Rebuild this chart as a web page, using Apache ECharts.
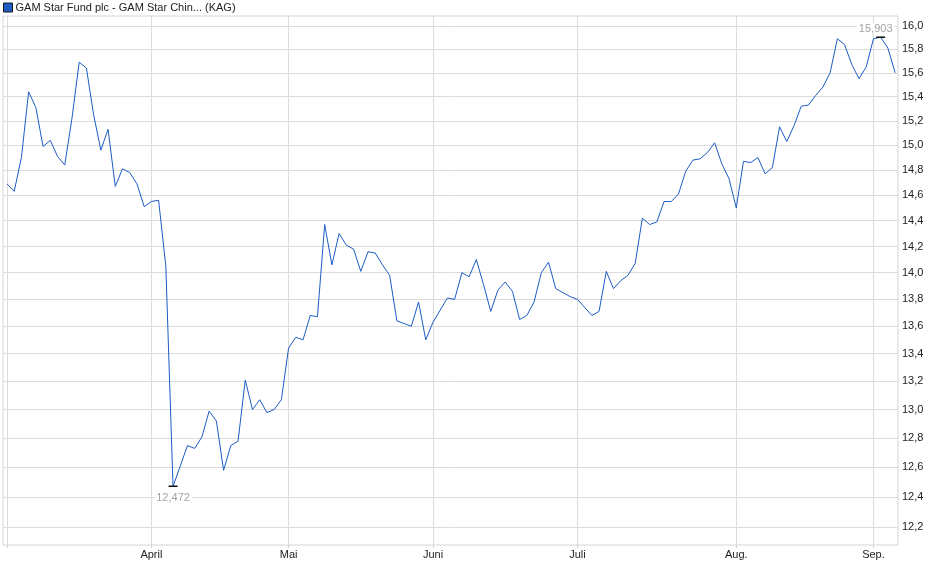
<!DOCTYPE html>
<html>
<head>
<meta charset="utf-8">
<script src="https://cdn.jsdelivr.net/npm/echarts@6/dist/echarts.min.js"></script>
<style>
  html, body { margin: 0; padding: 0; background: #fff; }
  #chart { width: 940px; height: 579px; }
</style>
</head>
<body>
<div id="chart"></div>
<script>
// Kurse je Handelstag (Anfang März bis Anfang Sep.)
const values = [
  14.69, 14.63, 14.90, 15.44, 15.31, 14.99, 15.04, 14.91, 14.84, 15.22,
  15.69, 15.64, 15.25, 14.96, 15.13, 14.67, 14.81, 14.78, 14.69, 14.51,
  14.55, 14.56, 14.05, 12.472, 12.61, 12.75, 12.73, 12.81, 12.99, 12.92,
  12.58, 12.75, 12.78, 13.21, 13.00, 13.07, 12.98, 13.00, 13.07, 13.44,
  13.52, 13.50, 13.68, 13.67, 14.37, 14.06, 14.30, 14.21, 14.18, 14.01,
  14.16, 14.15, 14.06, 13.98, 13.64, 13.62, 13.60, 13.78, 13.50, 13.63,
  13.72, 13.81, 13.80, 14.00, 13.97, 14.10, 13.91, 13.71, 13.87, 13.93,
  13.86, 13.65, 13.68, 13.78, 14.00, 14.08, 13.88, 13.85, 13.82, 13.80,
  13.74, 13.68, 13.71, 14.01, 13.88, 13.94, 13.98, 14.07, 14.42, 14.37,
  14.39, 14.55, 14.55, 14.61, 14.79, 14.88, 14.89, 14.94, 15.02, 14.85,
  14.73, 14.50, 14.87, 14.86, 14.90, 14.77, 14.82, 15.15, 15.03, 15.16,
  15.32, 15.33, 15.41, 15.48, 15.60, 15.89, 15.84, 15.67, 15.55, 15.65,
  15.89, 15.903, 15.81, 15.60
];
// erster Handelstag je Monat (Index in values)
const monthStarts = [0, 20, 39, 59, 79, 101, 120];
const monthLabels = ['', 'April', 'Mai', 'Juni', 'Juli', 'Aug.', 'Sep.'];
const yTicks = [12.2, 12.4, 12.6, 12.8, 13.0, 13.2, 13.4, 13.6, 13.8, 14.0,
  14.2, 14.4, 14.6, 14.8, 15.0, 15.2, 15.4, 15.6, 15.8, 16.0];
const seriesName = 'GAM Star Fund plc - GAM Star Chin... (KAG)';

const deNum = (v, d) => v.toFixed(d).replace('.', ',');
const font = 'Liberation Sans, Arial, sans-serif';

let myChart = echarts.init(document.getElementById('chart'));
myChart.setOption({
  animation: false,
  textStyle: { fontFamily: font },
  legend: {
    left: 3, top: 2, padding: 0,
    data: [seriesName],
    icon: 'rect', itemWidth: 9, itemHeight: 9, itemGap: 4,
    itemStyle: { borderColor: '#1a1a1a', borderWidth: 1 },
    textStyle: { fontSize: 11, color: '#222', fontFamily: font, padding: [0, 0, 0, -2] },
    selectedMode: false
  },
  grid: {
    left: 3, right: 42, top: 16, bottom: 34,
    show: true, borderColor: '#d4d4d4', borderWidth: 1
  },
  xAxis: {
    type: 'value',
    min: -0.55, max: 123.4,
    axisLine: { show: false },
    axisTick: { show: true, length: 3, customValues: monthStarts, lineStyle: { color: '#cfcfcf' } },
    axisLabel: {
      customValues: monthStarts,
      formatter: v => monthLabels[monthStarts.indexOf(Math.round(v))] || '',
      fontSize: 11, color: '#222', margin: 4
    },
    splitLine: { show: true, lineStyle: { color: '#dcdcdc' } }
  },
  yAxis: {
    type: 'log', logBase: 10,
    position: 'right',
    min: 12.0817, max: 16.0868,
    axisLine: { show: false },
    axisTick: { show: false, customValues: yTicks },
    axisLabel: {
      customValues: yTicks,
      formatter: v => deNum(v, 1),
      fontSize: 11, color: '#222', margin: 4
    },
    splitLine: { show: true, lineStyle: { color: '#dcdcdc' } }
  },
  series: [{
    name: seriesName,
    type: 'line',
    data: values.map((v, i) => [i, v]),
    showSymbol: false,
    color: '#1c5cc4',
    lineStyle: { width: 1, color: '#1c5cc4' },
    markPoint: {
      symbol: 'rect',
      symbolSize: [9, 1.5],
      itemStyle: { color: '#111' },
      label: {
        formatter: p => deNum(p.value, 3),
        color: '#a3a3a3', fontSize: 11, fontFamily: font,
        backgroundColor: '#fff', padding: [0, 2]
      },
      data: [
        { type: 'min', valueDim: 'y', label: { position: 'bottom', distance: 5 } },
        { type: 'max', valueDim: 'y', label: { position: 'top', distance: 2, offset: [-5, 0] } }
      ]
    }
  }]
});
</script>
</body>
</html>
